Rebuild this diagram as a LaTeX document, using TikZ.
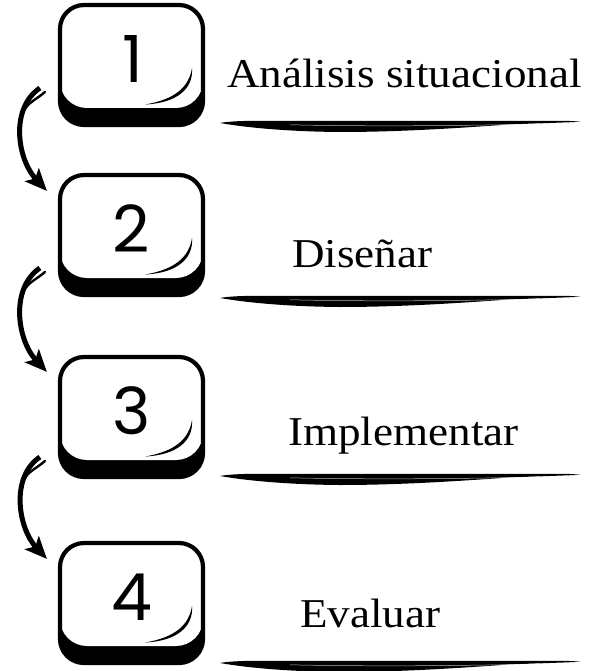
\documentclass[tikz,border=0pt]{standalone}
\usepackage{fontspec}
\usetikzlibrary{arrows.meta}
\newfontfamily\stepfont{Liberation Serif}
\newfontfamily\digitfont{Poppins}
\tikzset{
  keybox/.style={rectangle, minimum width=143pt, minimum height=120pt, inner sep=0pt,
    rounded corners=24pt, draw=black, line width=4.2pt, fill=white,
    path picture={
      \fill[black, sharp corners] ([yshift=45pt]path picture bounding box.south west) rectangle (path picture bounding box.south east);
      \fill[white, rounded corners=27pt] ([yshift=17pt]path picture bounding box.south west) rectangle ([yshift=30pt]path picture bounding box.north east);
      \fill[black, sharp corners] (60.5,-3) .. controls (62,-23) and (46.5,-38) .. (13.5,-39.5)
          .. controls (43.5,-34.5) and (57.5,-22) .. (60.5,-3) -- cycle;
    }},
  digit/.style={font=\digitfont\fontsize{65}{70}\selectfont, inner sep=0pt},
  steptext/.style={font=\stepfont\fontsize{41}{45}\selectfont, inner sep=0pt, anchor=base west},
  flowarrow/.style={line width=5pt, -{Stealth[length=22pt, width=19pt, inset=5pt]}},
  brushtail/.style={line width=2.4pt, line cap=round},
  pics/brushline/.style={code={
    \fill[black] (0,0) .. controls (8,1.5) and (20,2.2) .. (40,2.2) -- (340,2.2)
      .. controls (352,2.2) and (358,1.5) .. (360,1.2)
      .. controls (340,0.3) and (320,-0.3) .. (290,-1.4)
      .. controls (240,-5) and (180,-9) .. (120,-9)
      .. controls (60,-8.5) and (20,-3.5) .. (0,0) -- cycle;
    \draw[white, line width=0.5pt, opacity=0.7] (70,-1.8) .. controls (150,-3.6) and (250,-2.8) .. (320,-0.8);
  }}
}
\begin{document}
\begin{tikzpicture}[x=1pt, y=1pt]
\useasboundingbox (0,0) rectangle (596,-671);

% keys
\node[keybox] (k1) at (131.5,-65) {};
\node[keybox] (k2) at (131.5,-235) {};
\node[keybox] (k3) at (131.5,-417) {};
\node[keybox] (k4) at (131.5,-603) {};

\node[digit] (d1) at ([shift={(1pt,6pt)}]k1.center) {1};
\node[digit] (d2) at ([yshift=6pt]k2.center) {2};
\node[digit] (d3) at ([yshift=6pt]k3.center) {3};
\node[digit] (d4) at ([yshift=6pt]k4.center) {4};

% arrows
\draw[flowarrow] ([shift={(-18pt,-23pt)}]k1.west) to[out=214, in=133, out distance=36pt, in distance=44pt] ([shift={(-11pt,-18pt)}]k2.north west);
\draw[flowarrow] ([shift={(-18pt,-33pt)}]k2.west) to[out=214, in=133, out distance=36pt, in distance=44pt] ([shift={(-11pt,-17pt)}]k3.north west);
\draw[flowarrow] ([shift={(-18pt,-40pt)}]k3.west) to[out=214, in=133, out distance=36pt, in distance=42pt] ([shift={(-11pt,-18pt)}]k4.north west);

% brush tails
\draw[brushtail] ([shift={(-13pt,-27pt)}]k1.west) to[out=222, in=75] ([shift={(-35.5pt,-50pt)}]k1.west);
\draw[brushtail] ([shift={(-13pt,-37pt)}]k2.west) to[out=222, in=75] ([shift={(-35.5pt,-60pt)}]k2.west);
\draw[brushtail] ([shift={(-13pt,-44pt)}]k3.west) to[out=222, in=75] ([shift={(-35.5pt,-67pt)}]k3.west);

% texts
\node[steptext] (t1) at (227,-88) {\scalebox{1.1}[1]{Análisis situacional}};
\node[steptext] (t2) at (292,-267) {\scalebox{1.1}[1]{Diseñar}};
\node[steptext] (t3) at (288,-445) {\scalebox{1.1}[1]{Implementar}};
\node[steptext] (t4) at (300,-627) {\scalebox{1.1}[1]{Evaluar}};

% underlines
\pic at (220,-123) {brushline};
\pic at (220,-298) {brushline};
\pic at (220,-476) {brushline};
\pic at (220,-663) {brushline};
\end{tikzpicture}
\end{document}
